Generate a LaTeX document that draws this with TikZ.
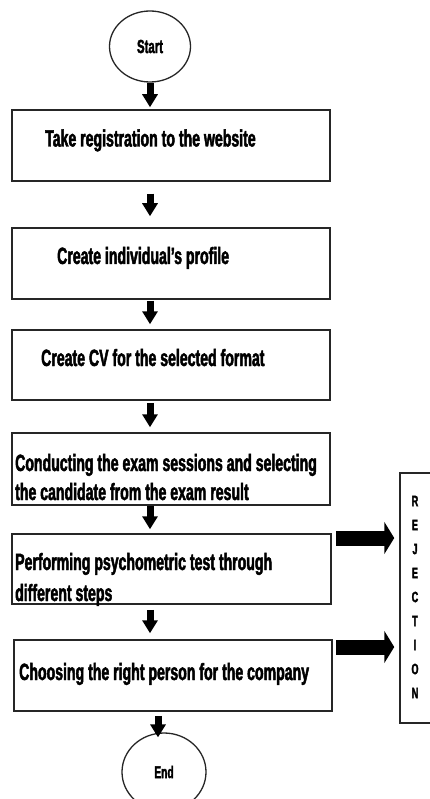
\documentclass[tikz,border=0pt]{standalone}
\usepackage{fontspec}
\newfontfamily\nf{Liberation Sans}[FakeStretch=0.6, FakeBold=2]
\usetikzlibrary{arrows.meta,shapes.geometric}
\begin{document}
\begin{tikzpicture}[x=1pt,y=-1pt,
  box/.style={draw=black!85, line width=1.5pt, rectangle, inner sep=0pt},
  oval/.style={draw=black!85, ellipse, line width=1.3pt, inner sep=0pt},
  txt/.style={font=\nf\bfseries\fontsize{23.5}{28}\selectfont, inner sep=0pt, anchor=base west},
  darrow/.style={line width=7pt, -{Triangle[width=15pt,length=13pt]}},
  rarrow/.style={line width=15pt, -{Triangle[width=32pt,length=10pt]}}]
\useasboundingbox (0,0) rectangle (430,799);
\clip (0,0) rectangle (430,799);
\fill[white] (0,0) rectangle (430,799);
% terminals
\node[oval, minimum width=81pt, minimum height=71pt,
      font=\nf\bfseries\fontsize{19}{23}\selectfont] (st) at (150,46.5) {Start};
\node[oval, minimum width=84pt, minimum height=78pt,
      font=\nf\bfseries\fontsize{17}{21}\selectfont] (en) at (164,772) {End};
% boxes
\node[box, minimum width=318pt, minimum height=71pt] (b1) at (171,145.5) {};
\node[box, minimum width=318pt, minimum height=71pt] (b2) at (171,263.5) {};
\node[box, minimum width=318pt, minimum height=70pt] (b3) at (171,365) {};
\node[box, minimum width=318pt, minimum height=72pt] (b4) at (171,469) {};
\node[box, minimum width=319pt, minimum height=70pt] (b5) at (171.5,569) {};
\node[box, minimum width=318pt, minimum height=71pt] (b6) at (173,675.5) {};
\node[box, minimum width=45pt, minimum height=250pt] (rej) at (422.5,598) {};
% texts
\node[txt] (t1) at (45,146.5) {Take registration to the website};
\node[txt] (t2) at (57,264) {Create individual’s profile};
\node[txt] (t3) at (41,366) {Create CV for the selected format};
\node[txt] (t4a) at (15,471) {Conducting the exam sessions and selecting};
\node[txt] (t4b) at (15,500) {the candidate from the exam result};
\node[txt] (t5a) at (15,570) {Performing psychometric test through};
\node[txt] (t5b) at (15,601) {different steps};
\node[txt] (t6) at (19,680) {Choosing the right person for the company};
\node[font=\nf\bfseries\fontsize{15}{24}\selectfont, align=center, inner sep=0pt]
  (rt) at (415,597) {R\\E\\J\\E\\C\\T\\I\\O\\N};
% down arrows
\coordinate (ax) at (158,0);
\draw[darrow, shorten >=2pt] (st.south) -- (b1.north -| st.south);
\draw[darrow, shorten <=12pt, shorten >=11pt] (b1.south -| st) -- (b2.north -| st);
\draw[darrow, shorten <=1pt, shorten >=5pt] (b2.south -| st) -- (b3.north -| st);
\draw[darrow, shorten <=2pt, shorten >=5pt] (b3.south -| st) -- (b4.north -| st);
\draw[darrow, shorten >=4pt] (b4.south -| st) -- (b5.north -| st);
\draw[darrow, shorten <=5pt, shorten >=6pt] (b5.south -| st) -- (b6.north -| st);
\draw[darrow, shorten <=4pt, shorten >=-5pt] (b6.south -| ax) -- (en.north -| ax);
% rejection arrows
\coordinate (r1) at (336,538);
\coordinate (r2) at (336,647);
\draw[rarrow, shorten >=5pt] (r1) -- (r1 -| rej.west);
\draw[rarrow, shorten >=5pt] (r2) -- (r2 -| rej.west);
\end{tikzpicture}
\end{document}
